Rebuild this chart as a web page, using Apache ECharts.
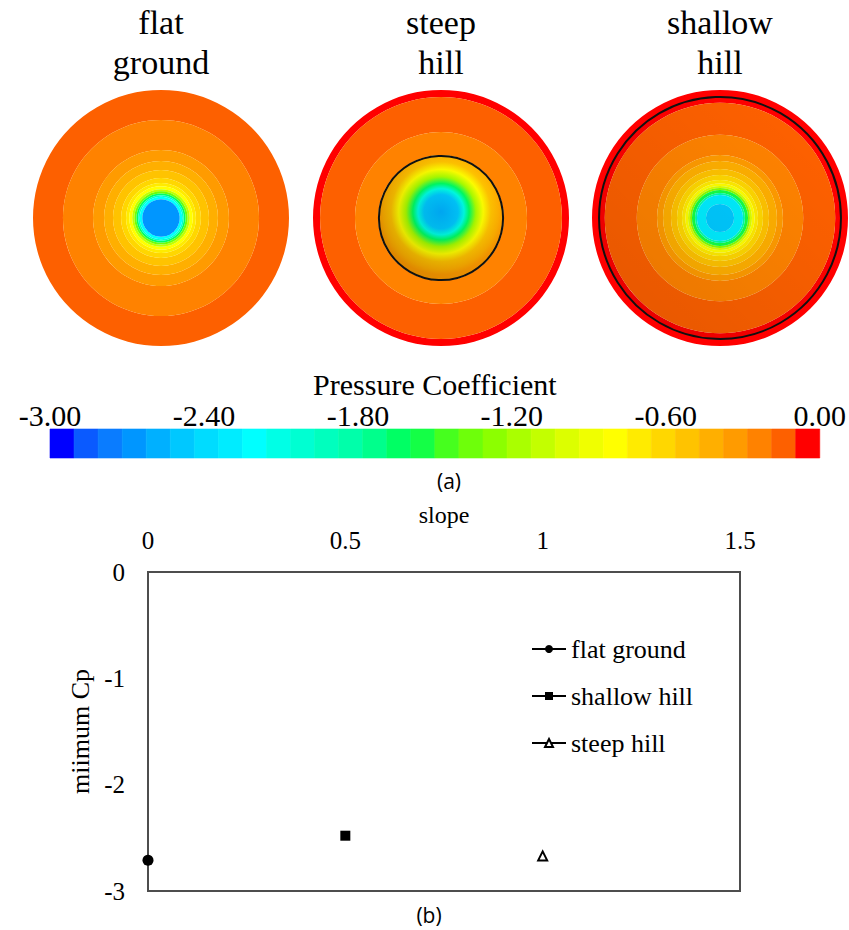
<!DOCTYPE html>
<html><head><meta charset="utf-8">
<script src="https://cdn.jsdelivr.net/npm/echarts@6/dist/echarts.min.js"></script>
<style>html,body{margin:0;padding:0;background:#fff}#c{width:849px;height:930px}</style>
</head><body><div id="c"></div>
<script>
// ---------------- data ----------------
const cpMin = -3, cpMax = 0;
const bandColors = [
  '#0000ff','#0a5aff','#0a7cff','#0096ff','#00b0ff','#00c8ff','#00dcff','#00ecff',
  '#00ffff','#00ffe6','#00ffd2','#00ffbe','#00ffaa','#00ff8c','#00ff64','#14ff46',
  '#46ff1e','#6eff0a','#8cff00','#aaff00','#c3ff00','#dcff00','#f0ff00','#ffff00',
  '#ffeb00','#ffd700','#ffc300','#ffaf00','#ff9b00','#ff8200','#fd6000','#ff0000'];
const colorbarTitle = 'Pressure Coefficient';
const colorbarTickStep = 0.6;
const discTitles = ['flat\nground', 'steep\nhill', 'shallow\nhill'];
// rings: [inner radius fraction, outer radius fraction, Cp]
const flatRings = [
  [0.766,1.000,-0.14],[0.531,0.766,-0.23],[0.445,0.531,-0.33],[0.375,0.445,-0.42],
  [0.312,0.375,-0.52],[0.273,0.312,-0.61],[0.248,0.273,-0.70],[0.225,0.248,-0.80],
  [0.208,0.225,-1.05],[0.192,0.208,-1.40],[0.178,0.192,-1.65],[0.166,0.178,-2.00],
  [0.146,0.166,-2.25],[0.000,0.146,-2.71]];
const steepRings = [[0.945,1.000,-0.05],[0.672,0.945,-0.14],[0.492,0.672,-0.23]];
// smooth core of the steep hill: [radius fraction, Cp]
const steepCore = [
  [0.00,-2.58],[0.133,-2.45],[0.18,-2.15],[0.22,-1.60],[0.273,-1.15],
  [0.33,-0.80],[0.39,-0.52],[0.45,-0.40],[0.492,-0.30]];
const shallowRings = [
  [0.900,1.000,-0.05],[0.650,0.900,-0.14],[0.492,0.650,-0.23],[0.445,0.492,-0.33],
  [0.383,0.445,-0.42],[0.336,0.383,-0.52],[0.297,0.336,-0.61],[0.270,0.297,-0.70],
  [0.250,0.270,-0.80],[0.234,0.250,-0.98],[0.219,0.234,-1.25],[0.195,0.219,-1.55],
  [0.180,0.195,-1.85],[0.110,0.180,-2.30],[0.000,0.110,-2.48]];
const steepHillEdge = 0.485;
const shallowHillEdge = 0.945;
// panel (b)
const seriesNames = ['flat ground', 'shallow hill', 'steep hill'];
const slopeValues = [0, 0.5, 1];
const minimumCp = [-2.71, -2.48, -2.67];
const slopeTickStep = 0.5;
const cpTickStep = 1;

// ---------------- helpers ----------------
const step = (cpMax - cpMin) / bandColors.length;
function cpColor(cp) {
  const i = Math.min(bandColors.length - 1, Math.max(0, Math.floor((cp - cpMin) / step)));
  return bandColors[i];
}
const serif = 'Liberation Serif';
const sans = 'Open Sans';
function polarRadius(api, params, v) {
  const cs = params.coordSys;
  const p = api.coord([v, 90]);
  return Math.hypot(p[0] - cs.cx, p[1] - cs.cy);
}
function ringItem(params, api) {
  const cs = params.coordSys;
  const r0 = polarRadius(api, params, api.value(0));
  const r1 = polarRadius(api, params, api.value(1));
  const fill = cpColor(api.value(2));
  if (r0 < 0.5) return {type: 'circle', shape: {cx: cs.cx, cy: cs.cy, r: r1}, style: {fill}};
  return {type: 'ring', shape: {cx: cs.cx, cy: cs.cy, r: r1, r0: r0}, style: {fill}};
}
function coreItem(stops) {
  return function (params, api) {
    const cs = params.coordSys;
    const outer = api.value(1);
    const r1 = polarRadius(api, params, outer);
    const cstops = stops.map(s => ({offset: s[0] / outer, color: cpColor(s[1])}));
    return {type: 'circle', shape: {cx: cs.cx, cy: cs.cy, r: r1},
      style: {fill: new echarts.graphic.RadialGradient(0.5, 0.45, 0.5, cstops)}};
  };
}
function shadeItem(strength) {
  return function (params, api) {
    const cs = params.coordSys;
    const r1 = polarRadius(api, params, api.value(1));
    return {type: 'circle', shape: {cx: cs.cx, cy: cs.cy, r: r1},
      style: {fill: new echarts.graphic.LinearGradient(0.85, 0.15, 0.15, 0.85, [
        {offset: 0, color: 'rgba(0,0,0,0)'}, {offset: 1, color: 'rgba(0,0,0,' + strength + ')'}])}};
  };
}
function edgeItem(params, api) {
  const cs = params.coordSys;
  const r = polarRadius(api, params, api.value(1));
  return {type: 'circle', shape: {cx: cs.cx, cy: cs.cy, r: r},
    style: {fill: 'none', stroke: '#111', lineWidth: 2}};
}

const centers = [[161, 218], [441, 218], [720, 218]];
const polar = centers.map(c => ({center: c, radius: 128}));
const radiusAxis = centers.map((c, i) => ({polarIndex: i, type: 'value', min: 0, max: 1, show: false}));
const angleAxis = centers.map((c, i) => ({polarIndex: i, type: 'value', min: 0, max: 360, show: false}));

function polarSeries(idx, data, render) {
  return {type: 'custom', coordinateSystem: 'polar', polarIndex: idx, data, renderItem: render, silent: true, animation: false};
}

const series = [
  polarSeries(0, flatRings, ringItem),
  polarSeries(1, steepRings, ringItem),
  polarSeries(1, [[0, steepCore[steepCore.length - 1][0]]], coreItem(steepCore)),
  polarSeries(1, [[0, steepHillEdge]], shadeItem(0.13)),
  polarSeries(1, [[0, steepHillEdge]], edgeItem),
  polarSeries(2, shallowRings, ringItem),
  polarSeries(2, [[0, shallowHillEdge]], shadeItem(0.08)),
  polarSeries(2, [[0, shallowHillEdge]], edgeItem),
  {
    type: 'custom', xAxisIndex: 0, yAxisIndex: 0, silent: true,
    data: bandColors.map((c, i) => [cpMin + i * step, cpMin + (i + 1) * step, i]),
    encode: {x: [0, 1]},
    renderItem: function (params, api) {
      const p0 = api.coord([api.value(0), 1]);
      const p1 = api.coord([api.value(1), 0]);
      const col = bandColors[api.value(2)];
      return {type: 'rect', shape: {x: p0[0], y: p0[1], width: p1[0] - p0[0], height: p1[1] - p0[1]},
        style: {fill: col, stroke: col, lineWidth: 0.6}};
    }
  }
];
const symbols = ['circle', 'rect', 'triangle'];
const symbolSizes = [11, 10, 9];
seriesNames.forEach((n, i) => {
  series.push({
    type: 'line', name: n, xAxisIndex: 1, yAxisIndex: 1,
    data: [[slopeValues[i], minimumCp[i]]],
    symbol: symbols[i], symbolSize: symbolSizes[i], clip: false,
    lineStyle: {color: '#000', width: 2},
    itemStyle: i === 2 ? {color: '#fff', borderColor: '#000', borderWidth: 2} : {color: '#000'}
  });
});

const option = {
  animation: false,
  polar, radiusAxis, angleAxis,
  grid: [
    {left: 50, top: 429, width: 774, height: 29, show: false},
    {left: 148, top: 572, width: 592, height: 319, show: true, borderColor: '#4d4d4d', borderWidth: 2}
  ],
  xAxis: [
    {gridIndex: 0, type: 'value', position: 'top', min: cpMin, max: cpMax, interval: colorbarTickStep,
     name: colorbarTitle, nameLocation: 'middle', nameGap: 30,
     nameTextStyle: {fontFamily: serif, fontSize: 30, color: '#000'},
     axisLine: {show: false}, axisTick: {show: false}, splitLine: {show: false},
     axisLabel: {fontFamily: serif, fontSize: 30, color: '#000', margin: -1,
       formatter: v => (Math.abs(v) < 1e-9 ? 0 : v).toFixed(2)}},
    {gridIndex: 1, type: 'value', position: 'top', min: 0, max: 1.5, interval: slopeTickStep,
     name: 'slope', nameLocation: 'middle', nameGap: 40,
     nameTextStyle: {fontFamily: serif, fontSize: 24, color: '#000'},
     axisLine: {show: false}, axisTick: {show: false}, splitLine: {show: false},
     axisLabel: {fontFamily: serif, fontSize: 25, color: '#000', margin: 19}}
  ],
  yAxis: [
    {gridIndex: 0, type: 'value', min: 0, max: 1, show: false},
    {gridIndex: 1, type: 'value', min: -3, max: 0, interval: cpTickStep,
     name: 'miimum Cp', nameLocation: 'middle', nameGap: 47,
     nameTextStyle: {fontFamily: serif, fontSize: 26, color: '#000'},
     axisLine: {show: false}, axisTick: {show: false}, splitLine: {show: false},
     axisLabel: {fontFamily: serif, fontSize: 25, color: '#000', margin: 23}}
  ],
  legend: {
    orient: 'vertical', left: 526, top: 631, itemWidth: 34, itemHeight: 10, itemGap: 21,
    data: seriesNames, textStyle: {fontFamily: serif, fontSize: 26, color: '#000'}
  },
  graphic: [
    ...discTitles.map((t, i) => ({type: 'text', x: centers[i][0], y: 42, silent: true,
      style: {text: t, fontFamily: serif, fontSize: 34, lineHeight: 40, fill: '#000', align: 'center', verticalAlign: 'middle'}})),
    {type: 'text', x: 449, y: 481, style: {text: '(a)', fontFamily: sans, fontSize: 21, fill: '#000', align: 'center', verticalAlign: 'middle'}},
    {type: 'text', x: 429, y: 915, style: {text: '(b)', fontFamily: sans, fontSize: 21, fill: '#000', align: 'center', verticalAlign: 'middle'}}
  ],
  series
};
const chart = echarts.init(document.getElementById('c'), null, {renderer: 'svg'});
chart.setOption(option);
</script></body></html>
